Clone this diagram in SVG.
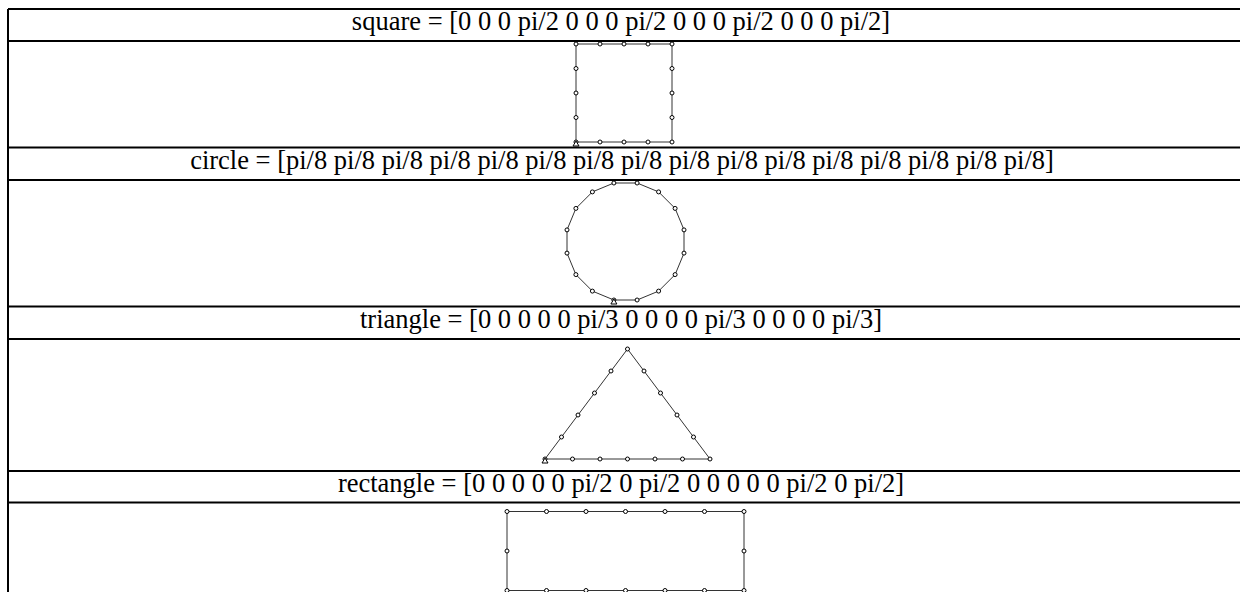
<svg xmlns="http://www.w3.org/2000/svg" width="1240" height="592" viewBox="0 0 1240 592">
  <style>
    .rule { stroke: #000; stroke-width: 2; fill: none; }
    .caption { font-family: "Liberation Serif", "Times New Roman", serif; font-size: 26.5px; fill: #000; text-anchor: middle; }
    .path { stroke: #333; stroke-width: 1; fill: none; }
    .pt { stroke: #000; stroke-width: 1; fill: #fff; }
    .start { stroke: #000; stroke-width: 1; fill: #fff; }
  </style>
  <defs>
    <circle id="dot" r="2" class="pt"/>
    <path id="origin" d="M0,-1 L3,4 L-3,4 Z" class="start"/>
  </defs>

  <rect width="1240" height="592" fill="#fff"/>

  <!-- table frame -->
  <g id="table">
    <line class="rule" x1="8" y1="9" x2="8" y2="592"/>
    <line class="rule" x1="8" y1="9" x2="1240" y2="9"/>
    <line class="rule" x1="8" y1="41" x2="1240" y2="41"/>
    <line class="rule" x1="8" y1="147.5" x2="1240" y2="147.5"/>
    <line class="rule" x1="8" y1="180" x2="1240" y2="180"/>
    <line class="rule" x1="8" y1="306.5" x2="1240" y2="306.5"/>
    <line class="rule" x1="8" y1="339" x2="1240" y2="339"/>
    <line class="rule" x1="8" y1="471" x2="1240" y2="471"/>
    <line class="rule" x1="8" y1="502.5" x2="1240" y2="502.5"/>
  </g>

  <!-- square -->
  <g id="square">
    <text class="caption" x="621" y="30">square = [0 0 0 pi/2 0 0 0 pi/2 0 0 0 pi/2 0 0 0 pi/2]</text>
    <polygon class="path" points="576,142 672,142 672,44 576,44"/>
    <g>
      <use href="#dot" x="576" y="142"/><use href="#dot" x="600" y="142"/><use href="#dot" x="624" y="142"/><use href="#dot" x="648" y="142"/><use href="#dot" x="672" y="142"/>
      <use href="#dot" x="672" y="117.5"/><use href="#dot" x="672" y="93"/><use href="#dot" x="672" y="68.5"/><use href="#dot" x="672" y="44"/>
      <use href="#dot" x="648" y="44"/><use href="#dot" x="624" y="44"/><use href="#dot" x="600" y="44"/><use href="#dot" x="576" y="44"/>
      <use href="#dot" x="576" y="68.5"/><use href="#dot" x="576" y="93"/><use href="#dot" x="576" y="117.5"/>
    </g>
    <use href="#origin" x="576" y="142"/>
  </g>

  <!-- circle -->
  <g id="circle">
    <text class="caption" x="622" y="169">circle = [pi/8 pi/8 pi/8 pi/8 pi/8 pi/8 pi/8 pi/8 pi/8 pi/8 pi/8 pi/8 pi/8 pi/8 pi/8 pi/8]</text>
    <polygon class="path" points="613.9,300 637.1,300 658.6,291.1 675.1,274.6 684,253.1 684,229.9 675.1,208.4 658.6,191.9 637.1,183 613.9,183 592.4,191.9 575.9,208.4 567,229.9 567,253.1 575.9,274.6 592.4,291.1"/>
    <g>
      <use href="#dot" x="613.9" y="300"/><use href="#dot" x="637.1" y="300"/><use href="#dot" x="658.6" y="291.1"/><use href="#dot" x="675.1" y="274.6"/>
      <use href="#dot" x="684" y="253.1"/><use href="#dot" x="684" y="229.9"/><use href="#dot" x="675.1" y="208.4"/><use href="#dot" x="658.6" y="191.9"/>
      <use href="#dot" x="637.1" y="183"/><use href="#dot" x="613.9" y="183"/><use href="#dot" x="592.4" y="191.9"/><use href="#dot" x="575.9" y="208.4"/>
      <use href="#dot" x="567" y="229.9"/><use href="#dot" x="567" y="253.1"/><use href="#dot" x="575.9" y="274.6"/><use href="#dot" x="592.4" y="291.1"/>
    </g>
    <use href="#origin" x="613.9" y="300"/>
  </g>

  <!-- triangle -->
  <g id="triangle">
    <text class="caption" x="621" y="328">triangle = [0 0 0 0 0 pi/3 0 0 0 0 pi/3 0 0 0 0 pi/3]</text>
    <polygon class="path" points="545,459 710,459 627.5,349"/>
    <g>
      <use href="#dot" x="545" y="459"/><use href="#dot" x="572.5" y="459"/><use href="#dot" x="600" y="459"/><use href="#dot" x="627.5" y="459"/><use href="#dot" x="655" y="459"/><use href="#dot" x="682.5" y="459"/><use href="#dot" x="710" y="459"/>
      <use href="#dot" x="693.5" y="437"/><use href="#dot" x="677" y="415"/><use href="#dot" x="660.5" y="393"/><use href="#dot" x="644" y="371"/><use href="#dot" x="627.5" y="349"/>
      <use href="#dot" x="611" y="371"/><use href="#dot" x="594.5" y="393"/><use href="#dot" x="578" y="415"/><use href="#dot" x="561.5" y="437"/>
    </g>
    <use href="#origin" x="545" y="459"/>
  </g>

  <!-- rectangle -->
  <g id="rectangle">
    <text class="caption" x="621" y="492">rectangle = [0 0 0 0 0 pi/2 0 pi/2 0 0 0 0 0 pi/2 0 pi/2]</text>
    <polygon class="path" points="507,590.5 744,590.5 744,511.5 507,511.5"/>
    <g>
      <use href="#dot" x="507" y="511.5"/><use href="#dot" x="546.5" y="511.5"/><use href="#dot" x="586" y="511.5"/><use href="#dot" x="625.5" y="511.5"/><use href="#dot" x="665" y="511.5"/><use href="#dot" x="704.5" y="511.5"/><use href="#dot" x="744" y="511.5"/>
      <use href="#dot" x="507" y="551"/><use href="#dot" x="744" y="551"/>
      <use href="#dot" x="507" y="590.5"/><use href="#dot" x="546.5" y="590.5"/><use href="#dot" x="586" y="590.5"/><use href="#dot" x="625.5" y="590.5"/><use href="#dot" x="665" y="590.5"/><use href="#dot" x="704.5" y="590.5"/><use href="#dot" x="744" y="590.5"/>
    </g>
  </g>
</svg>
